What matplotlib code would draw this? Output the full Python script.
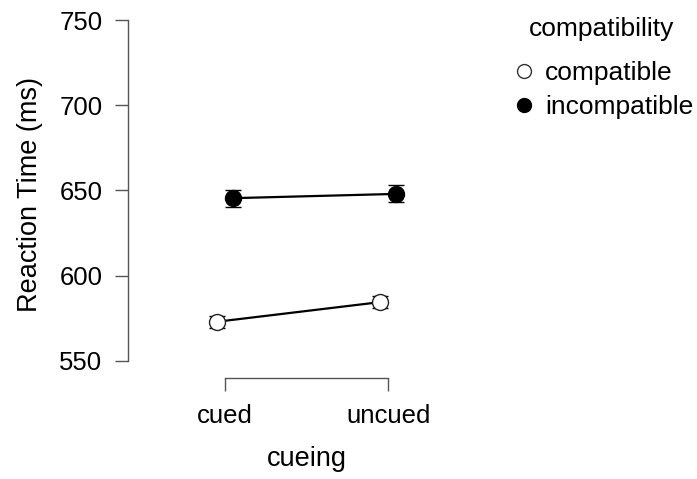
import matplotlib
matplotlib.use("Agg")
import matplotlib.pyplot as plt
from matplotlib.lines import Line2D

plt.rcParams['font.family'] = ['Liberation Sans', 'DejaVu Sans']

cueing = ["cued", "uncued"]
compat_means = [573.0, 584.5]
compat_err = [3.5, 3.5]
incompat_means = [645.5, 648.0]
incompat_err = [5.0, 5.0]
yticks = [550, 600, 650, 700, 750]

fig = plt.figure(figsize=(6.97, 4.79), dpi=100)
ax = fig.add_axes([128/697, 1-378/479, (486-128)/697, (378-11.5)/479])

x = list(range(len(cueing)))
dodge = 0.05
xc = [v - dodge for v in x]
xi = [v + dodge for v in x]

ax.errorbar(xc, compat_means, yerr=compat_err, color='black', lw=1.6,
            marker='o', ms=11.5, mfc='white', mec='#222222', mew=1.0,
            capsize=5.5, capthick=1.6, elinewidth=1.2, zorder=3)
ax.errorbar(xi, incompat_means, yerr=incompat_err, color='black', lw=1.6,
            marker='o', ms=11.5, mfc='black', mec='black', mew=1.0,
            capsize=5.5, capthick=1.6, elinewidth=1.2, zorder=3)

ax.set_xlim(-0.595, 1.6)
ax.set_ylim(540, 755)
ax.set_xticks(x)
ax.set_xticklabels(cueing)
ax.set_yticks(yticks)
ax.set_yticklabels([str(t) for t in yticks])

for s in ['top', 'right']:
    ax.spines[s].set_visible(False)
ax.spines['left'].set_bounds(550, 750)
ax.spines['bottom'].set_bounds(0, 1)
for s in ['left', 'bottom']:
    ax.spines[s].set_color('#555555')
    ax.spines[s].set_linewidth(1.0)
ax.tick_params(axis='both', colors='#555555', labelcolor='black', length=9.5,
               width=1.0, labelsize=18.5, pad=9)

ax.set_ylabel("Reaction Time (ms)", fontsize=19.5, labelpad=12)
ax.set_xlabel("cueing", fontsize=19.5, labelpad=13)

handles = [Line2D([], [], ls='none', marker='o', ms=10, mfc='white', mec='#333333', mew=1.0),
           Line2D([], [], ls='none', marker='o', ms=10, mfc='black', mec='black', mew=1.0)]
leg = fig.legend(handles, ["compatible", "incompatible"], title="compatibility",
                 loc='upper left', bbox_to_anchor=(500/697, 1-6/479), frameon=False,
                 fontsize=19, title_fontsize=19, handletextpad=0.3, handlelength=1.0,
                 labelspacing=0.38, borderaxespad=0)
leg._legend_box.sep = 15

fig.savefig("out.png", dpi=100)
